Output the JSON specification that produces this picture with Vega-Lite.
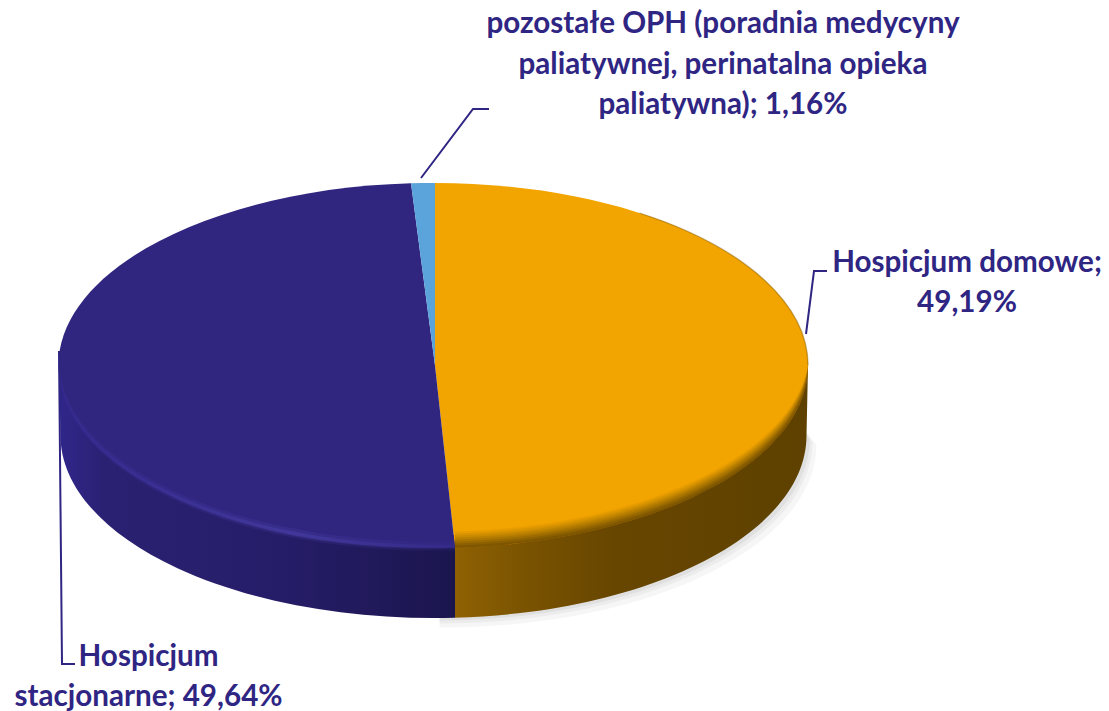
{
"$schema":"https://vega.github.io/schema/vega-lite/v6.json",
"width":1109,"height":711,"padding":0,"autosize":{"type":"none"},"background":"white",
"config":{"view":{"stroke":null}},
"datasets":{"slices":[
{"slice":"Hospicjum domowe","value":49.19,"label":"Hospicjum domowe;\n49,19%"},
{"slice":"Hospicjum stacjonarne","value":49.64,"label":"Hospicjum\nstacjonarne; 49,64%"},
{"slice":"pozostałe OPH","value":1.16,"label":"pozostałe OPH (poradnia medycyny\npaliatywnej, perinatalna opieka\npaliatywna); 1,16%"}
]},
"data":{"name":"slices"},
"layer":[
{"transform":[{"filter":"datum.slice=='Hospicjum domowe'"}],
 "layer":[
 {"mark":{"type":"point","filled":true,"size":4,"opacity":0.035,"fill":"#000000","strokeWidth":0,"shape":"M -115,100 L -115,272 A 373 182.5 0 0 0 262,89.5 L 240,60 Z"},"encoding":{}},
 {"mark":{"type":"point","filled":true,"size":4,"opacity":0.04,"fill":"#000000","strokeWidth":0,"shape":"M -115,100 L -115,268 A 373 182.5 0 0 0 258,87 L 240,60 Z"},"encoding":{}},
 {"mark":{"type":"point","filled":true,"size":4,"opacity":0.05,"fill":"#000000","strokeWidth":0,"shape":"M -115,100 L -115,265 A 373 182.5 0 0 0 255.5,84 L 240,60 Z"},"encoding":{}},
 {"mark":{"type":"point","filled":true,"size":4,"opacity":1,"strokeWidth":0,"fill":{"gradient":"linear","x1":0,"y1":0,"x2":1,"y2":0,"stops":[{"offset":0,"color":"#8f6103"},{"offset":0.2,"color":"#7a5301"},{"offset":0.45,"color":"#674600"},{"offset":1,"color":"#5e4100"}]},
  "shape":"M -99.5,180 L -99.5,262.2 A 373 182.5 0 0 0 252,80 L 253.5,10 Z"},"encoding":{}}
 ]},
{"transform":[{"filter":"datum.slice=='Hospicjum stacjonarne'"}],
 "mark":{"type":"point","filled":true,"size":4,"opacity":1,"strokeWidth":0,"fill":{"gradient":"linear","x1":0,"y1":0,"x2":1,"y2":0,"stops":[{"offset":0,"color":"#30268a"},{"offset":0.12,"color":"#2a2172"},{"offset":0.55,"color":"#261d69"},{"offset":0.85,"color":"#1f1857"},{"offset":1,"color":"#1b154e"}]},
  "shape":"M -495.5,10 L -494,80 A 373 182.5 0 0 0 -99.5,262.2 L -99.5,180 Z"},"encoding":{}},
{"mark":{"type":"point","filled":true,"size":4,"opacity":1,"strokeWidth":0},
 "encoding":{
  "shape":{"field":"slice","type":"nominal","legend":null,"scale":{"domain":["Hospicjum domowe","Hospicjum stacjonarne","pozostałe OPH"],"range":[
   "M -119.5,10 L -119.5,-172.5 A 374.5 182.5 0 0 1 -99.5,192.2 Z",
   "M -119.5,10 L -99.5,192.2 A 374.5 182.5 0 0 1 -143.5,-172.17 Z",
   "M -119.5,10 L -143.5,-172.17 A 374.5 182.5 0 0 1 -119.5,-172.5 Z"]}},
  "color":{"field":"slice","type":"nominal","legend":null,"scale":{"domain":["Hospicjum domowe","Hospicjum stacjonarne","pozostałe OPH"],"range":["#f2a400","#302680","#5ba3db"]}}
 }},
{"transform":[{"filter":"datum.slice=='Hospicjum domowe'"}],
 "layer":[
 {"mark":{"type":"point","filled":true,"size":4,"opacity":0.07,"strokeWidth":0,"fill":"#664600","shape":"M -99.5,192.2 A 374.5 182.5 0 0 0 253.5,10 A 374.5 182.5 0 0 1 -99.5,176 Z"},"encoding":{}},
 {"mark":{"type":"point","filled":true,"size":4,"opacity":0.1,"strokeWidth":0,"fill":"#664600","shape":"M -99.5,192.2 A 374.5 182.5 0 0 0 253.5,10 A 374.5 182.5 0 0 1 -99.5,178 Z"},"encoding":{}},
 {"mark":{"type":"point","filled":true,"size":4,"opacity":0.12,"strokeWidth":0,"fill":"#664600","shape":"M -99.5,192.2 A 374.5 182.5 0 0 0 253.5,10 A 374.5 182.5 0 0 1 -99.5,180 Z"},"encoding":{}},
 {"mark":{"type":"point","filled":true,"size":4,"opacity":0.15,"strokeWidth":0,"fill":"#664600","shape":"M -99.5,192.2 A 374.5 182.5 0 0 0 253.5,10 A 374.5 182.5 0 0 1 -99.5,182 Z"},"encoding":{}},
 {"mark":{"type":"point","filled":true,"size":4,"opacity":0.18,"strokeWidth":0,"fill":"#664600","shape":"M -99.5,192.2 A 374.5 182.5 0 0 0 253.5,10 A 374.5 182.5 0 0 1 -99.5,184 Z"},"encoding":{}},
 {"mark":{"type":"point","filled":true,"size":4,"opacity":0.22,"strokeWidth":0,"fill":"#664600","shape":"M -99.5,192.2 A 374.5 182.5 0 0 0 253.5,10 A 374.5 182.5 0 0 1 -99.5,186 Z"},"encoding":{}},
 {"mark":{"type":"point","filled":true,"size":4,"opacity":0.28,"strokeWidth":0,"fill":"#664600","shape":"M -99.5,192.2 A 374.5 182.5 0 0 0 253.5,10 A 374.5 182.5 0 0 1 -99.5,188 Z"},"encoding":{}},
 {"mark":{"type":"point","filled":true,"size":4,"opacity":0.35,"strokeWidth":0,"fill":"#664600","shape":"M -99.5,192.2 A 374.5 182.5 0 0 0 253.5,10 A 374.5 182.5 0 0 1 -99.5,190 Z"},"encoding":{}},
 {"mark":{"type":"point","filled":false,"size":4,"opacity":0.45,"strokeWidth":1.4,"stroke":"#8a5f05","shape":"M 85,-142.4 A 374.5 182.5 0 0 1 253.5,10"},"encoding":{}}
 ]},
{"transform":[{"filter":"datum.slice=='Hospicjum stacjonarne'"}],
 "layer":[
 {"mark":{"type":"point","filled":true,"size":4,"opacity":0.16,"strokeWidth":0,"fill":{"gradient":"linear","x1":0,"y1":0,"x2":1,"y2":0,"stops":[{"offset":0,"color":"#3b30a0"},{"offset":0.6,"color":"#5a4fc0"},{"offset":1,"color":"#3a2f90"}]},"shape":"M -495.5,10 A 374.5 182.5 0 0 0 -99.5,195 L -99.5,186 A 374.5 182.5 0 0 1 -495.5,10 Z"},"encoding":{}},
 {"mark":{"type":"point","filled":true,"size":4,"opacity":0.3,"strokeWidth":0,"fill":{"gradient":"linear","x1":0,"y1":0,"x2":1,"y2":0,"stops":[{"offset":0,"color":"#3b30a0"},{"offset":0.6,"color":"#5a4fc0"},{"offset":1,"color":"#3a2f90"}]},"shape":"M -495.5,10 A 374.5 182.5 0 0 0 -99.5,193 L -99.5,189 A 374.5 182.5 0 0 1 -495.5,10 Z"},"encoding":{}}
 ]},
{"mark":{"type":"point","filled":false,"size":4,"opacity":1,"strokeWidth":2,"stroke":"#2f2583"},
 "encoding":{"shape":{"field":"slice","type":"nominal","legend":null,"scale":{"domain":["Hospicjum domowe","Hospicjum stacjonarne","pozostałe OPH"],"range":[
  "M 251.5,-21.5 L 259.5,-84.5 L 272.5,-84.5",
  "M -495.5,-4.5 L -492.5,308.5 L -479.5,308.5",
  "M -133.5,-177.5 L -81.5,-246.5 L -65.5,-246.5"]}}}},
{"transform":[{"filter":"datum.slice=='Hospicjum domowe'"}],
 "mark":{"type":"text","font":"Lato","fontWeight":"bold","fontSize":29.6,"fill":"#2f2583","align":"center","baseline":"alphabetic","lineBreak":"\n","lineHeight":40,"dx":412.5,"dy":-83.5},
 "encoding":{"text":{"field":"label"}}},
{"transform":[{"filter":"datum.slice=='Hospicjum stacjonarne'"}],
 "mark":{"type":"text","font":"Lato","fontWeight":"bold","fontSize":29.6,"fill":"#2f2583","align":"center","baseline":"alphabetic","lineBreak":"\n","lineHeight":40,"dx":-406,"dy":310.5},
 "encoding":{"text":{"field":"label"}}},
{"transform":[{"filter":"datum.slice=='pozostałe OPH'"}],
 "mark":{"type":"text","font":"Lato","fontWeight":"bold","fontSize":29.6,"fill":"#2f2583","align":"center","baseline":"alphabetic","lineBreak":"\n","lineHeight":40.5,"dx":168.5,"dy":-322.5},
 "encoding":{"text":{"field":"label"}}}
],
"resolve":{"scale":{"shape":"independent","color":"independent"}}
}
